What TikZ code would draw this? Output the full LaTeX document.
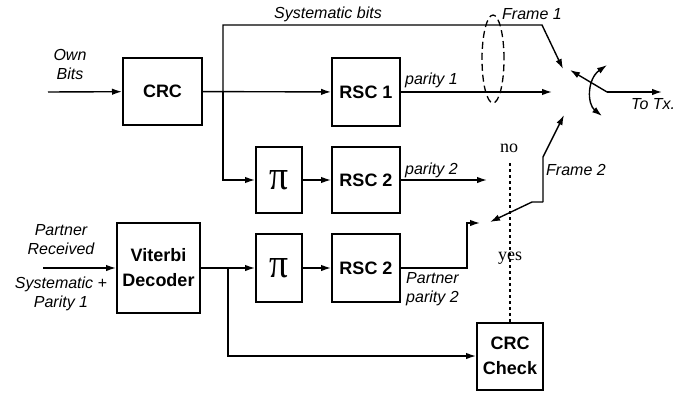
\documentclass[tikz,border=0pt]{standalone}
\usepackage{fontspec}
\setmainfont{Liberation Sans}
\newfontfamily\timesfont{Liberation Serif}
\usetikzlibrary{arrows.meta,positioning,shapes.geometric}
\tikzstyle{block} = [rectangle, draw=black, line width=2pt, align=center, inner sep=0pt, font=\bfseries\fontsize{18}{25}\selectfont]
\tikzstyle{lbl} = [align=center, inner sep=0pt, font=\itshape\fontsize{16}{19}\selectfont]
\tikzstyle{word} = [inner sep=0pt, font=\timesfont\fontsize{18}{20}\selectfont]
\tikzstyle{arr} = [-{Latex[length=10pt,width=6.5pt]}, line width=1.4pt]
\tikzstyle{dblarr} = [{Latex[length=10pt,width=6.5pt]}-{Latex[length=10pt,width=6.5pt]}, line width=1.4pt]
\newcommand{\bigpi}{\resizebox{19pt}{19pt}{\timesfont\mdseries\upshape π}}

\begin{document}
\begin{tikzpicture}[x=1pt, y=-1pt]
\useasboundingbox (0,0) rectangle (684,393);
% blocks
\node[block, minimum width=79pt, minimum height=67pt] (crc) at (162.5,91.5) {CRC};
\node[block, minimum width=68pt, minimum height=68pt] (rsc1) at (366,92) {RSC 1};
\node[block, minimum width=46pt, minimum height=66pt] (pia) at (279,180) {\bigpi};
\node[block, minimum width=68pt, minimum height=66pt] (rsca) at (366,180) {RSC 2};
\node[block, minimum width=83pt, minimum height=90pt] (vit) at (158.5,268) {Viterbi\\Decoder};
\node[block, minimum width=46pt, minimum height=68pt] (pib) at (279,268) {\bigpi};
\node[block, minimum width=68pt, minimum height=68pt] (rscb) at (366,268) {RSC 2};
\node[block, minimum width=66pt, minimum height=67pt] (chk) at (510,356) {CRC\\Check};

% labels
\node[lbl] (ownlbl) at (70,64) {Own\\Bits};
\node[lbl] (syslbl) at (328,14) {Systematic bits};
\node[lbl, anchor=west] (f1lbl) at (502,14) {Frame 1};
\node[lbl, anchor=west] (p1lbl) at (405,80) {parity 1};
\node[lbl, anchor=west] (p2lbl) at (405,170) {parity 2};
\node[lbl, anchor=west] (txlbl) at (631,104) {To Tx.};
\node[lbl, anchor=west] (f2lbl) at (546,170) {Frame 2};
\node[word] (nolbl) at (509,148) {no};
\node[word] (yeslbl) at (510,258) {yes};
\node[lbl, align=left, anchor=west] (pplbl) at (406,289) {Partner\\parity 2};
\node[lbl] (rxlbl) at (61,240) {Partner\\Received};
\node[lbl] (sylbl) at (61,294) {Systematic +\\Parity 1};

% points
\coordinate (ownin) at (48,92);
\coordinate (sysknee) at (223,92);
\coordinate (sysend) at (542,25);
\coordinate (f1tip) at (563,69);
\coordinate (p1tip) at (552,92);
\coordinate (p2tip) at (487,180);
\coordinate (pivot) at (607,92);
\coordinate (levertip) at (570,70);
\coordinate (txout) at (662,92);
\coordinate (swingtop) at (607,65);
\coordinate (swingbot) at (602,116);
\coordinate (f2pivot) at (543,202);
\coordinate (f2bend) at (543,157);
\coordinate (f2tip) at (564,115);
\coordinate (swstub) at (532,202);
\coordinate (swtip) at (490,222);
\coordinate (ppknee) at (467,268);
\coordinate (pptip) at (480,223);
\coordinate (ctrltop) at (510,163);
\coordinate (vitin) at (43,268);
\coordinate (vitknee) at (228,268);

% own branch
\draw[arr] (ownin) -- (crc);
\draw[arr] (crc) -- (rsc1);
\draw[arr] (sysknee) |- (pia);
\draw[arr] (sysknee) |- (sysend) -- (f1tip);
\draw[arr] (pia) -- (rsca);
\draw[arr] (rsc1) -- (p1tip);
\draw[arr] (rsca) -- (p2tip);
\draw[dashed, line width=1.3pt, dash pattern=on 7pt off 4pt] (493,59) ellipse [x radius=11pt, y radius=44pt];

% output switch
\draw[arr] (pivot) -- (levertip);
\draw[arr] (pivot) -- (txout);
\draw[dblarr] (swingtop) .. controls (587,79) and (587,104) .. (swingbot);

% partner branch
\draw[arr] (vitin) -- (vit);
\draw[arr] (vit) -- (pib);
\draw[arr] (pib) -- (rscb);
\draw[arr] (vitknee) |- (chk);
\draw[arr] (rscb) -- (ppknee) |- (pptip);
\draw[arr] (f2pivot) -- (f2bend) -- (f2tip);
\draw[arr] (f2pivot) -- (swstub) -- (swtip);
\draw[dashed, line width=1.3pt] (ctrltop) -- (chk);
\end{tikzpicture}
\end{document}
